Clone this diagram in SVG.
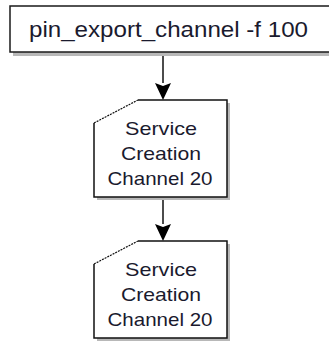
<svg xmlns="http://www.w3.org/2000/svg" width="329" height="341" viewBox="0 0 329 341">
<defs>
<style>
.box{fill:#ffffff;stroke:#1a1a1a;stroke-width:1.5}
.shadow{fill:#b8b8b8}
.lbl{font-family:"Liberation Sans",Arial,sans-serif;font-size:19px;fill:#1a1a2e;text-anchor:middle}
.edge{stroke:#111;stroke-width:1.5;fill:none}
.cut{stroke:#111;stroke-width:1.2;stroke-dasharray:2 1;fill:none}
</style>
<marker id="arr" viewBox="0 0 16 17" refX="8" refY="17" markerWidth="16" markerHeight="17" markerUnits="userSpaceOnUse" orient="auto-start-reverse">
<path d="M0,0 L8,3 L16,0 L8,17 Z" fill="#000"/>
</marker>
</defs>
<rect width="329" height="341" fill="#ffffff"/>
<g id="connectors">
<line class="edge" x1="163" y1="52" x2="163" y2="83"/>
<path d="M155,83 L163,86 L171,83 L163,100 Z" fill="#000"/>
<line class="edge" x1="163" y1="197" x2="163" y2="224"/>
<path d="M155,224 L163,227 L171,224 L163,241 Z" fill="#000"/>
</g>
<g id="n0">
<rect class="shadow" x="13" y="9" width="330" height="47"/>
<rect class="box" x="10" y="6" width="330" height="46"/>
<text class="lbl" x="168.5" y="37" font-size="22" textLength="279" lengthAdjust="spacingAndGlyphs" style="font-size:22px">pin_export_channel -f 100</text>
</g>
<g id="n1">
<path class="shadow" d="M97,126 L141,103 L230,103 L230,200 L97,200 Z"/>
<path d="M94,123 L138,100 L227,100 L227,197 L94,197 Z" fill="#fff"/>
<path class="edge" d="M138,100 L227,100 L227,197 L94,197 L94,123"/>
<line class="cut" x1="94" y1="123" x2="138" y2="100"/>
<text class="lbl" x="161" y="135" textLength="72" lengthAdjust="spacingAndGlyphs">Service</text>
<text class="lbl" x="161" y="160" textLength="80" lengthAdjust="spacingAndGlyphs">Creation</text>
<text class="lbl" x="160" y="185" textLength="105" lengthAdjust="spacingAndGlyphs">Channel 20</text>
</g>
<g id="n2">
<path class="shadow" d="M97,267 L141,244 L230,244 L230,341 L97,341 Z"/>
<path d="M94,264 L138,241 L227,241 L227,338 L94,338 Z" fill="#fff"/>
<path class="edge" d="M138,241 L227,241 L227,338 L94,338 L94,264"/>
<line class="cut" x1="94" y1="264" x2="138" y2="241"/>
<text class="lbl" x="161" y="276" textLength="72" lengthAdjust="spacingAndGlyphs">Service</text>
<text class="lbl" x="161" y="301" textLength="80" lengthAdjust="spacingAndGlyphs">Creation</text>
<text class="lbl" x="160" y="326" textLength="105" lengthAdjust="spacingAndGlyphs">Channel 20</text>
</g>
</svg>
